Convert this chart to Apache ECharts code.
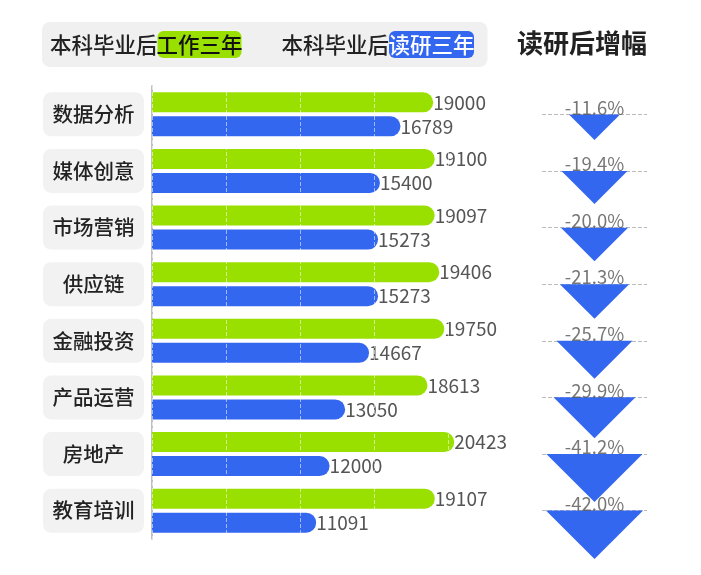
<!DOCTYPE html>
<html>
<head>
<meta charset="utf-8">
<script src="https://cdn.jsdelivr.net/npm/echarts@6/dist/echarts.min.js"></script>
<style>
  html, body { margin: 0; padding: 0; background: #fff; }
  #main { width: 701px; height: 575px; }
</style>
</head>
<body>
<div id="main"></div>
<script>
// 行业
var categories = ['数据分析', '媒体创意', '市场营销', '供应链', '金融投资', '产品运营', '房地产', '教育培训'];
// 本科毕业后工作三年
var workThree = [19000, 19100, 19097, 19406, 19750, 18613, 20423, 19107];
// 本科毕业后读研三年
var gradThree = [16789, 15400, 15273, 15273, 14667, 13050, 12000, 11091];
// 读研后增幅 (%)
var growth = [-11.6, -19.4, -20.0, -21.3, -25.7, -29.9, -41.2, -42.0];

var green = '#99e000';
var blue = '#3467f0';
var font = 'Noto Sans CJK SC';

var chart = echarts.init(document.getElementById('main'));

// 三角形面积跟增幅成正比
var triData = growth.map(function (g, i) {
  var w = 15 * Math.sqrt(Math.abs(g));
  return { value: [1, i], symbolSize: [w, w / 2], symbolOffset: [0, w / 4] };
});
var labelData = growth.map(function (g, i) {
  return { value: [1, i], pct: g };
});

var option = {
  animation: false,
  textStyle: { fontFamily: font },
  title: [{
    left: 42,
    top: 22,
    backgroundColor: '#f0f0f0',
    borderRadius: 8,
    padding: [9, 13, 9, 8],
    text: '{n|本科毕业后}{g|工作三年}{sp|}{n|本科毕业后}{b|读研三年}',
    textStyle: {
      fontWeight: 500,
      rich: {
        n: { fontSize: 21.5, color: '#222', fontWeight: 500, height: 27, lineHeight: 27, fontFamily: font },
        g: { fontSize: 21.5, color: '#111', fontWeight: 500, height: 27, lineHeight: 27, width: 84, align: 'center',
             backgroundColor: green, borderRadius: 6, fontFamily: font },
        sp: { width: 40, height: 27 },
        b: { fontSize: 21.5, color: '#fff', fontWeight: 500, height: 27, lineHeight: 27, width: 85, align: 'center',
             backgroundColor: blue, borderRadius: 6, fontFamily: font }
      }
    }
  }, {
    text: '读研后增幅',
    left: 517,
    top: 30,
    padding: 0,
    textStyle: { fontSize: 26, fontWeight: 'bold', color: '#222', fontFamily: font }
  }],
  grid: [
    { left: 152, top: 86, width: 370, height: 453 },
    { left: 542, top: 114.5, width: 105, height: 396 }
  ],
  xAxis: [{
    gridIndex: 0,
    type: 'value',
    min: 0,
    max: 25000,
    interval: 5000,
    z: 5,
    axisLine: { show: false },
    axisTick: { show: false },
    axisLabel: { show: false },
    splitLine: { lineStyle: { color: 'rgba(255,255,255,0.55)', type: 'dashed', width: 1 } }
  }, {
    gridIndex: 1,
    type: 'value',
    min: 0,
    max: 2,
    show: false
  }],
  yAxis: [{
    gridIndex: 0,
    type: 'category',
    inverse: true,
    data: categories,
    axisTick: { show: false },
    axisLine: { lineStyle: { color: '#aaa', width: 1.5 } },
    axisLabel: {
      margin: 8,
      formatter: function (v) { return '{c|' + v + '}'; },
      rich: {
        c: { width: 101, height: 44, lineHeight: 44, align: 'center', fontSize: 20.5, color: '#222',
             fontWeight: 500, backgroundColor: '#f2f2f2', borderRadius: 8, fontFamily: font }
      }
    }
  }, {
    gridIndex: 1,
    type: 'category',
    inverse: true,
    boundaryGap: false,
    data: categories,
    axisLine: { show: false },
    axisTick: { show: false, interval: 0 },
    axisLabel: { show: false },
    splitLine: { show: true, interval: 0, lineStyle: { color: '#bbb', type: 'dashed', width: 1 } }
  }],
  series: [{
    name: '本科毕业后工作三年',
    type: 'bar',
    data: workThree,
    barWidth: 20,
    barGap: '20%',
    itemStyle: { color: green, borderRadius: [0, 10, 10, 0] },
    label: { show: true, position: 'right', distance: 0, fontSize: 19, color: '#555', fontFamily: font }
  }, {
    name: '本科毕业后读研三年',
    type: 'bar',
    data: gradThree,
    barWidth: 20,
    itemStyle: { color: blue, borderRadius: [0, 10, 10, 0] },
    label: { show: true, position: 'right', distance: 0, fontSize: 19, color: '#555', fontFamily: font }
  }, {
    name: '增幅',
    type: 'scatter',
    xAxisIndex: 1,
    yAxisIndex: 1,
    symbol: 'path://M0,0 L2,0 L1,1 Z',
    itemStyle: { color: blue, opacity: 1 },
    data: triData,
    z: 3
  }, {
    name: '增幅标签',
    type: 'scatter',
    xAxisIndex: 1,
    yAxisIndex: 1,
    symbolSize: 1,
    itemStyle: { color: 'rgba(0,0,0,0)' },
    data: labelData,
    z: 10,
    label: {
      show: true,
      position: 'top',
      distance: -3,
      fontSize: 18.5,
      color: '#555',
      fontFamily: font,
      formatter: function (p) { return p.data.pct.toFixed(1) + '%'; }
    }
  }]
};

chart.setOption(option);
</script>
</body>
</html>
